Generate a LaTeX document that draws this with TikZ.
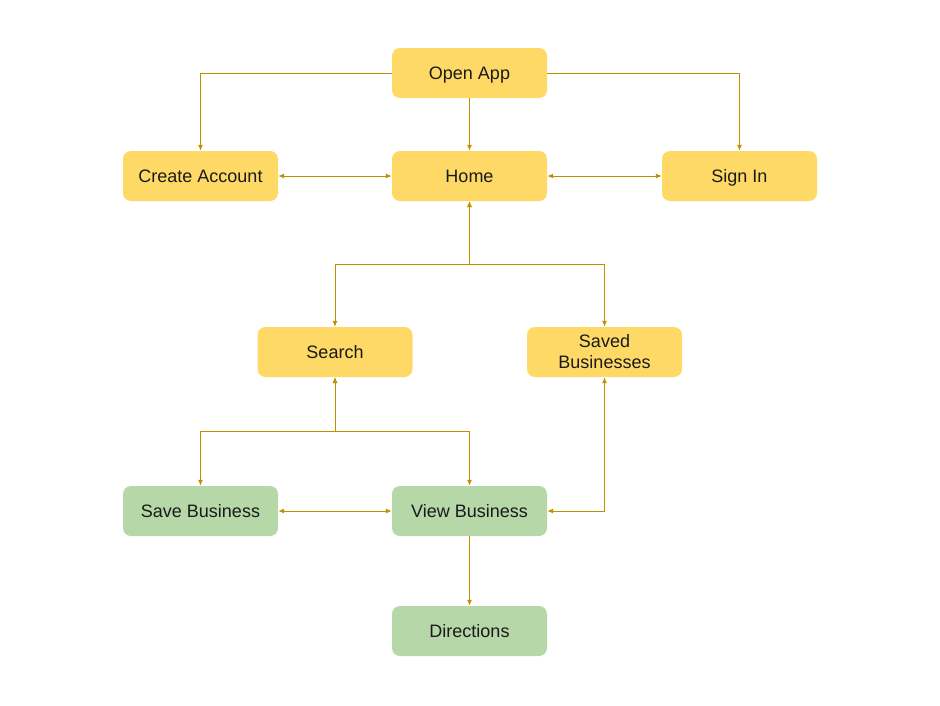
\documentclass[tikz,border=0pt]{standalone}
\usepackage{fontspec}
\setmainfont{Liberation Sans}
\usetikzlibrary{arrows.meta}
\definecolor{boxyellow}{HTML}{FFD966}
\definecolor{boxgreen}{HTML}{B6D7A8}
\definecolor{linec}{HTML}{BF9000}
\definecolor{txt}{HTML}{1A1A1A}
\tikzset{
  box/.style={rounded corners=8pt, minimum width=155pt, minimum height=50pt, inner sep=2pt,
    align=center, text=txt, font=\fontsize{18}{21}\selectfont},
  one/.style={text height=15pt, text depth=1.8pt},
  ybox/.style={box, fill=boxyellow},
  gbox/.style={box, fill=boxgreen},
  conn/.style={draw=linec, line width=1pt},
  arr/.style={conn, -{Latex[length=6pt,width=5pt]}},
  biarr/.style={conn, {Latex[length=6pt,width=5pt]}-{Latex[length=6pt,width=5pt]}},
}
\begin{document}
\begin{tikzpicture}[x=1pt,y=-1pt]
\useasboundingbox (0,0) rectangle (940,705);
\node[ybox,one] (open) at (469.5,73) {Open App};
\node[ybox,one] (home) at (469.5,176) {Home};
\node[ybox,one] (create) at (200.5,176) {Create Account};
\node[ybox,one] (signin) at (739.5,176) {Sign In};
\node[ybox,one] (search) at (335,352) {Search};
\node[ybox] (saved) at (604.5,352) {Saved\\Businesses};
\node[gbox,one] (savebiz) at (200.5,511) {Save Business};
\node[gbox,one] (viewbiz) at (469.5,511) {View Business};
\node[gbox,one] (dir) at (469.5,631) {Directions};
\coordinate (hj) at (469.5,264);
\coordinate (sj) at (335,431);

\draw[arr] (open.west) -| (create.north);
\draw[arr] (open.east) -| (signin.north);
\draw[arr] (open.south) -- (home.north);
\draw[biarr] (create.east) -- (home.west);
\draw[biarr] (home.east) -- (signin.west);
\draw[biarr] (home.south) -- (hj) -| (search.north);
\draw[biarr] (home.south) -- (hj) -| (saved.north);
\draw[biarr] (search.south) -- (sj) -| (savebiz.north);
\draw[biarr] (search.south) -- (sj) -| (viewbiz.north);
\draw[biarr] (savebiz.east) -- (viewbiz.west);
\draw[biarr] (saved.south) |- (viewbiz.east);
\draw[arr] (viewbiz.south) -- (dir.north);
\end{tikzpicture}
\end{document}
